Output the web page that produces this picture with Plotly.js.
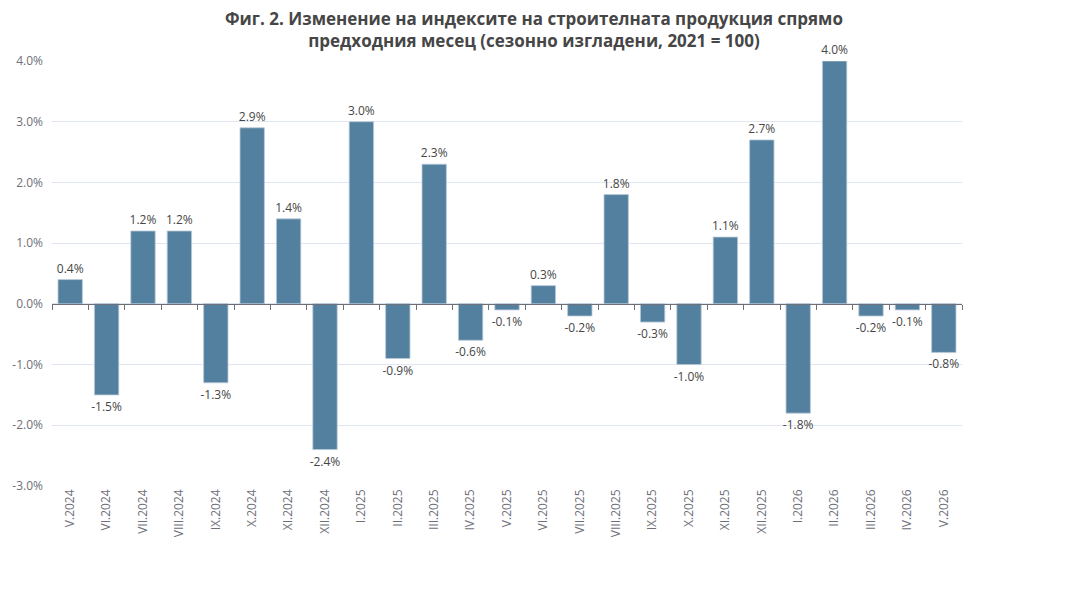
<!DOCTYPE html>
<html>
<head>
<meta charset="utf-8">
<script src="https://cdn.plot.ly/plotly-3.0.1.min.js"></script>
<style>
  html, body { margin: 0; padding: 0; background: #ffffff; }
  #chart { width: 1068px; height: 616px; }
</style>
</head>
<body>
<div id="chart"></div>
<script>
  var months = [
    "V.2024", "VI.2024", "VII.2024", "VIII.2024", "IX.2024", "X.2024",
    "XI.2024", "XII.2024", "I.2025", "II.2025", "III.2025", "IV.2025",
    "V.2025", "VI.2025", "VII.2025", "VIII.2025", "IX.2025", "X.2025",
    "XI.2025", "XII.2025", "I.2026", "II.2026", "III.2026", "IV.2026",
    "V.2026"
  ];

  var changes = [
    0.4, -1.5, 1.2, 1.2, -1.3, 2.9,
    1.4, -2.4, 3.0, -0.9, 2.3, -0.6,
    -0.1, 0.3, -0.2, 1.8, -0.3, -1.0,
    1.1, 2.7, -1.8, 4.0, -0.2, -0.1,
    -0.8
  ];

  var yTicks = [-3, -2, -1, 0, 1, 2, 3, 4];
  var yTickText = yTicks.map(function (v) { return v.toFixed(1) + "%"; });

  var TITLE = "Фиг. 2. Изменение на индексите на строителната продукция спрямо<br>" +
    "предходния месец (сезонно изгладени, 2021 = 100)";

  var FONT = "'Open Sans', 'Noto Sans', sans-serif";
  var GRAY = "#6e7079";
  var yMin = -3, yMax = 4;

  var bars = {
    x: months,
    y: changes,
    type: "bar",
    marker: {
      color: "#54809f",
      line: { color: "#b9cad8", width: 0.8 }
    },
    text: changes.map(function (v) { return v.toFixed(1) + "%"; }),
    textposition: "outside",
    constraintext: "none",
    textfont: { family: FONT, size: 12, color: "#464646" },
    cliponaxis: false,
    hoverinfo: "x+y"
  };

  // unsichtbarer Trace nur fuer die Nulllinie mit Ticks
  var zeroAxisTrace = {
    x: months,
    y: changes.map(function () { return null; }),
    type: "bar",
    xaxis: "x2",
    showlegend: false,
    hoverinfo: "skip"
  };

  var layout = {
    width: 1068,
    height: 616,
    margin: { l: 52, r: 106, t: 61, b: 130 },
    paper_bgcolor: "#ffffff",
    plot_bgcolor: "#ffffff",
    showlegend: false,
    bargap: 0.33,
    xaxis: {
      type: "category",
      tickangle: -90,
      tickfont: { family: FONT, size: 12, color: GRAY },
      showline: false,
      showgrid: false,
      zeroline: false,
      ticks: "",
      ticklen: 0,
      automargin: false
    },
    xaxis2: {
      type: "category",
      matches: "x",
      overlaying: "x",
      anchor: "free",
      position: (0 - yMin) / (yMax - yMin),
      showticklabels: false,
      showline: true,
      linecolor: GRAY,
      linewidth: 1,
      ticks: "outside",
      tickson: "boundaries",
      ticklen: 5,
      tickcolor: GRAY,
      showgrid: false,
      zeroline: false
    },
    yaxis: {
      range: [yMin, yMax],
      tickmode: "array",
      tickvals: yTicks,
      ticktext: yTickText,
      tickfont: { family: FONT, size: 12, color: GRAY },
      showgrid: true,
      gridcolor: "#e0e6f1",
      gridwidth: 1,
      zeroline: false,
      showline: false,
      ticks: "",
      ticklabelstandoff: 8,
      automargin: false
    },
    // Titel als Annotation, damit beide Zeilen sauber oben sitzen
    annotations: [{
      text: TITLE,
      xref: "paper",
      yref: "paper",
      x: (534 - 52) / 910,
      y: 1 + (61 - 5) / 425,
      xanchor: "center",
      yanchor: "top",
      showarrow: false,
      align: "center",
      font: { family: FONT, size: 17, color: "#464646", weight: "bold" }
    }]
  };

  Plotly.newPlot("chart", [bars, zeroAxisTrace], layout, { displayModeBar: false, staticPlot: true });
</script>
</body>
</html>
